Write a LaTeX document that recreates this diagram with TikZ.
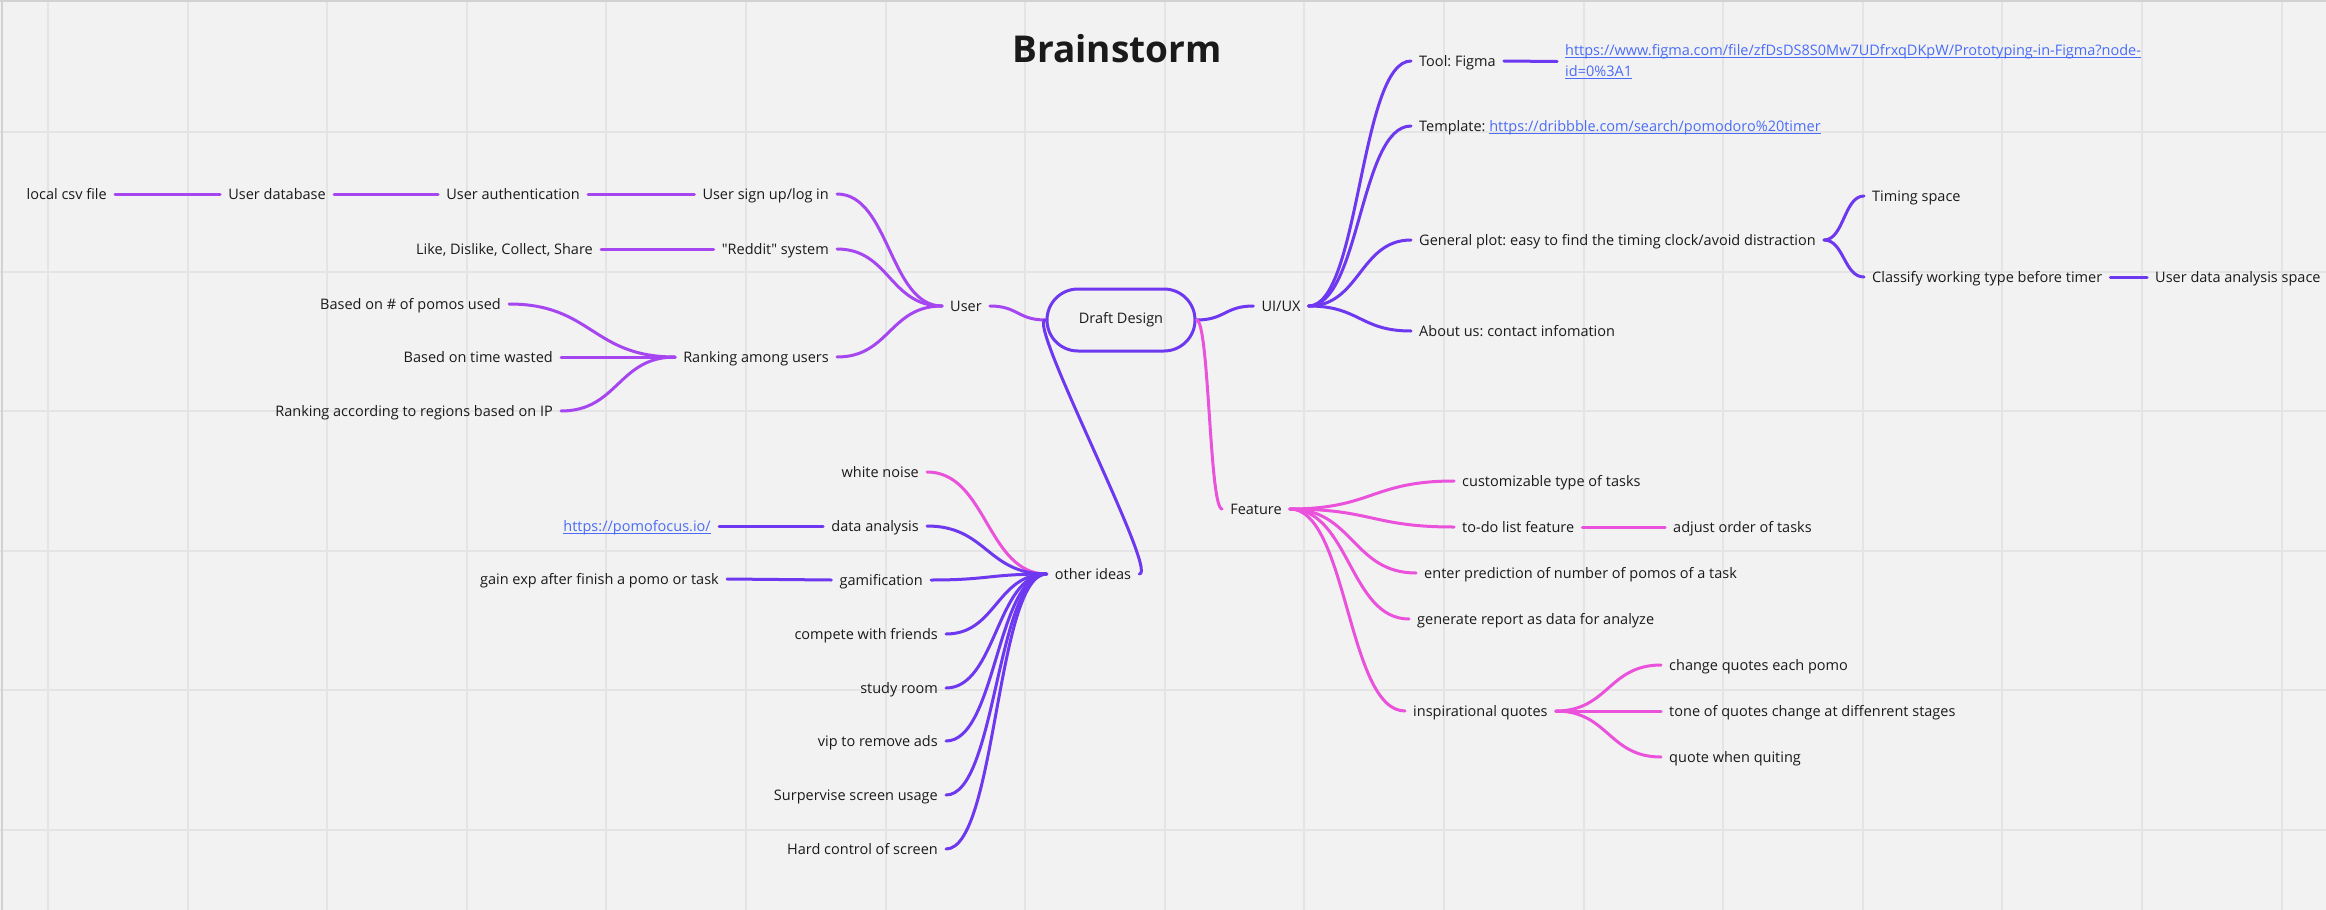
\documentclass[tikz,border=0pt]{standalone}
\usepackage{fontspec}
\setmainfont{Open Sans}
\usetikzlibrary{calc}
\frenchspacing
\definecolor{bg}{HTML}{F2F2F2}
\definecolor{gridc}{HTML}{E4E4E4}
\definecolor{bordc}{HTML}{D2D2D2}
\definecolor{txt}{HTML}{1A1A1A}
\definecolor{linkc}{HTML}{4A6CF7}
\definecolor{userc}{HTML}{A546F0}
\definecolor{violet}{HTML}{6D38F0}
\definecolor{pinkc}{HTML}{EB52DB}
\tikzset{
  lbl/.style={font=\fontsize{14.5}{17}\selectfont, text=txt, inner xsep=8pt, inner ysep=0pt, text height=10.4pt, text depth=0pt},
  lblL/.style={lbl, anchor=east},
  lblR/.style={lbl, anchor=west},
  conn/.style={line width=3pt, line cap=round},
  mmcurve/.style={to path={let \p1=(\tikztostart), \p2=(\tikztotarget) in
     .. controls ({0.5*(\x1+\x2)},\y1) and ({0.5*(\x1+\x2)},\y2) .. (\tikztotarget)}},
  gridline/.style={draw=gridc, line width=2pt}
}
\newsavebox{\lnkbox}
\newcommand{\lnk}[1]{\sbox{\lnkbox}{#1}{\color{linkc}\rlap{\rule[-2.6pt]{\wd\lnkbox}{1.1pt}}#1}}
\begin{document}
\begin{tikzpicture}[x=1pt,y=-1pt]
\useasboundingbox (0,0) rectangle (2326,910);
\fill[bg] (0,0) rectangle (2326,910);
\foreach \i in {0,...,16} \draw[gridline] ({48+139.6*\i},0) -- ({48+139.6*\i},910);
\foreach \i in {0,...,5} \draw[gridline] (0,{132+139.6*\i}) -- (2326,{132+139.6*\i});
\draw[bordc, line width=2pt] (0,1) -- (2326,1);
\draw[bordc, line width=2pt] (1.5,0) -- (1.5,910);

% title
\node[font=\fontsize{37}{40}\selectfont\bfseries, text=txt] (title) at (1117,48.5) {Brainstorm};

% central node
\node[draw=violet, line width=3pt, minimum width=148pt, minimum height=62pt, rounded corners=31pt,
      font=\fontsize{14.5}{17}\selectfont, text=txt, inner sep=0pt] (dd) at (1121,320) {Draft Design};

% User subtree
\node[lbl] (user) at (966,306) {User};
\node[lblL] (signup) at (837,194) {User sign up/log in};
\node[lblL] (auth) at (588,194) {User authentication};
\node[lblL] (db) at (334,194) {User database};
\node[lblL] (csv) at (115,194) {local csv file};
\node[lblL] (reddit) at (837,249) {\textquotedbl Reddit\textquotedbl{} system};
\node[lblL] (like) at (601,249) {Like, Dislike, Collect, Share};
\node[lblL] (rank) at (837,357) {Ranking among users};
\node[lblL] (pomos) at (509,304) {Based on \# of pomos used};
\node[lblL] (wasted) at (561,357) {Based on time wasted};
\node[lblL] (region) at (561,411) {Ranking according to regions based on IP};

% UI/UX subtree
\node[lbl] (uiux) at (1281,306) {UI/UX};
\node[lblR] (figma) at (1411,61) {Tool: Figma};
\node[font=\fontsize{14.5}{21}\selectfont, inner xsep=8pt, inner ysep=0pt, align=left, anchor=west] (figurl) at (1557,61.5)
  {\lnk{https://www.figma.com/file/zfDsDS8S0Mw7UDfrxqDKpW/Prototyping-in-Figma?node-}\\\lnk{id=0\%3A1}};
\node[lblR] (template) at (1411,126) {Template: \lnk{https://dribbble.com/search/pomodoro\%20timer}};
\node[lblR] (plot) at (1411,240) {General plot: easy to find the timing clock/avoid distraction};
\node[lblR] (about) at (1411,331) {About us: contact infomation};
\node[lblR] (timing) at (1864,196) {Timing space};
\node[lblR] (classify) at (1864,277) {Classify working type before timer};
\node[lblR] (uda) at (2147,277) {User data analysis space};

% Feature subtree
\node[lbl] (feature) at (1256,509) {Feature};
\node[lblR] (custom) at (1454,481) {customizable type of tasks};
\node[lblR] (todo) at (1454,527) {to-do list feature};
\node[lblR] (adjust) at (1665,527) {adjust order of tasks};
\node[lblR] (enter) at (1416,573) {enter prediction of number of pomos of a task};
\node[lblR] (generate) at (1409,619) {generate report as data for analyze};
\node[lblR] (inspir) at (1405,711) {inspirational quotes};
\node[lblR] (change) at (1661,665) {change quotes each pomo};
\node[lblR] (tone) at (1661,711) {tone of quotes change at diffenrent stages};
\node[lblR] (quiting) at (1661,757) {quote when quiting};

% other ideas subtree
\node[lbl] (oi) at (1093,574) {other ideas};
\node[lblL] (noise) at (927,472) {white noise};
\node[lblL] (dataan) at (927,526) {data analysis};
\node[lblL] (pomo) at (719,526) {\lnk{https://pomofocus.io/}};
\node[lblL] (gamif) at (931,580) {gamification};
\node[lblL] (gainexp) at (727,579) {gain exp after finish a pomo or task};
\node[lblL] (compete) at (946,634) {compete with friends};
\node[lblL] (study) at (946,688) {study room};
\node[lblL] (vip) at (946,741) {vip to remove ads};
\node[lblL] (superv) at (946,795) {Surpervise screen usage};
\node[lblL] (hard) at (946,849) {Hard control of screen};

% connectors: User
\begin{scope}[conn, userc]
\draw (csv.east) to[mmcurve] (db.west);
\draw (db.east) to[mmcurve] (auth.west);
\draw (auth.east) to[mmcurve] (signup.west);
\draw (like.east) to[mmcurve] (reddit.west);
\draw (pomos.east) to[mmcurve] (rank.west);
\draw (wasted.east) to[mmcurve] (rank.west);
\draw (region.east) to[mmcurve] (rank.west);
\draw (signup.east) to[mmcurve] (user.west);
\draw (reddit.east) to[mmcurve] (user.west);
\draw (rank.east) to[mmcurve] (user.west);
\draw (user.east) to[mmcurve] (dd.west);
\end{scope}

% connectors: UI/UX
\begin{scope}[conn, violet]
\draw (dd.east) to[mmcurve] (uiux.west);
\draw (uiux.east) to[mmcurve] (figma.west);
\draw (uiux.east) to[mmcurve] (template.west);
\draw (uiux.east) to[mmcurve] (plot.west);
\draw (uiux.east) to[mmcurve] (about.west);
\draw (figma.east) to[mmcurve] (figurl.west);
\draw (plot.east) to[mmcurve] (timing.west);
\draw (plot.east) to[mmcurve] (classify.west);
\draw (classify.east) to[mmcurve] (uda.west);
\end{scope}

% connectors: Feature
\begin{scope}[conn, pinkc]
\draw (dd.east) to[mmcurve] (feature.west);
\draw (feature.east) to[mmcurve] (custom.west);
\draw (feature.east) to[mmcurve] (todo.west);
\draw (feature.east) to[mmcurve] (enter.west);
\draw (feature.east) to[mmcurve] (generate.west);
\draw (feature.east) to[mmcurve] (inspir.west);
\draw (todo.east) to[mmcurve] (adjust.west);
\draw (inspir.east) to[mmcurve] (change.west);
\draw (inspir.east) to[mmcurve] (tone.west);
\draw (inspir.east) to[mmcurve] (quiting.west);
\end{scope}

% connectors: other ideas
\begin{scope}[conn, violet]
\draw (dd.west) .. controls +(-20,0) and +(20,0) .. (oi.east);
\draw[pinkc] (noise.east) to[mmcurve] (oi.west);
\draw (dataan.east) to[mmcurve] (oi.west);
\draw (gamif.east) to[mmcurve] (oi.west);
\draw (compete.east) to[mmcurve] (oi.west);
\draw (study.east) to[mmcurve] (oi.west);
\draw (vip.east) to[mmcurve] (oi.west);
\draw (superv.east) to[mmcurve] (oi.west);
\draw (hard.east) to[mmcurve] (oi.west);
\draw (pomo.east) to[mmcurve] (dataan.west);
\draw (gainexp.east) to[mmcurve] (gamif.west);
\end{scope}
\end{tikzpicture}
\end{document}
